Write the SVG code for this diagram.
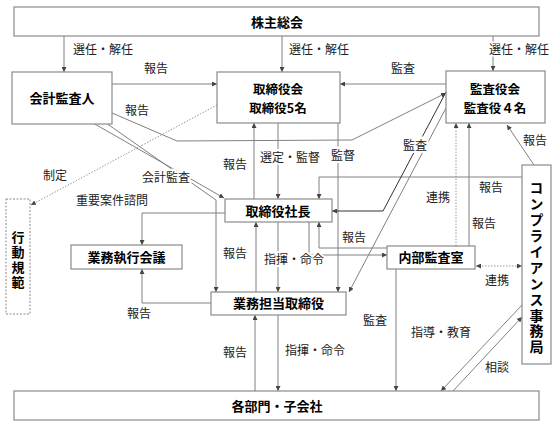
<svg xmlns="http://www.w3.org/2000/svg" width="557" height="427" viewBox="0 0 557 427">
<style>
.box{fill:#fff;stroke:#8a8a8a;stroke-width:1.2}
.dbox{fill:#fff;stroke:#8a8a8a;stroke-width:1;stroke-dasharray:2,1.5}
.t{font-family:"Noto Sans CJK JP","Noto Sans",sans-serif;font-weight:bold;font-size:13px;text-anchor:middle;fill:#000}
.t2{font-family:"Noto Sans CJK JP","Noto Sans",sans-serif;font-weight:bold;font-size:12.5px;text-anchor:middle;fill:#000}
.vt{font-family:"Noto Sans CJK JP","Noto Sans",sans-serif;font-weight:bold;fill:#000;writing-mode:vertical-rl;text-anchor:start}
.l{font-family:"Noto Sans CJK JP","Noto Sans",sans-serif;font-size:12px;text-anchor:middle;fill:#222}
.h{stroke:#fff;stroke-width:4;paint-order:stroke}
.c{fill:none;stroke:#808080;stroke-width:1;marker-end:url(#a)}
.dk{stroke:#333}
.d{fill:none;stroke:#999;stroke-width:1;stroke-dasharray:1.5,1.5}
</style>
<defs>
<marker id="a" viewBox="0 0 6 6" refX="6" refY="3" markerWidth="5" markerHeight="5" orient="auto-start-reverse" markerUnits="userSpaceOnUse"><path d="M0,0 L6,3 L0,6 z" fill="#444"/></marker>
</defs>
<g id="connectors">
<path class="c" d="M64,36 V72"/>
<path class="c" d="M282,36 V72"/>
<path class="c" d="M493,36 V71"/>
<path class="c" d="M112,84 H217"/>
<path class="c" d="M446,84 H340"/>
<path class="c" d="M112,113 L177,141 L352,140 L446,93"/>
<path class="d" d="M217,105 L31,205" marker-end="url(#a)"/>
<path class="c" d="M93,123 L224,198"/>
<path class="c" d="M106,123 L216,200 V292"/>
<path class="c" d="M254,199 V123"/>
<path class="c" d="M278,123 V199"/>
<path class="c" d="M338,123 V292"/>
<path class="c" d="M522,177 H319 V199"/>
<path class="c dk" d="M446,92 L383,211 H332"/>
<path class="c" d="M446,108 L349,292"/>
<path class="d" d="M456,246 V123" marker-end="url(#a)"/>
<path class="c" d="M469,246 V123"/>
<path class="c" d="M534,165 L507,125"/>
<path class="c" d="M225,213 H142 V245"/>
<path class="c" d="M211,303 H142 V269"/>
<path class="c" d="M256,292 V222"/>
<path class="c" d="M278,222 V292"/>
<path class="c" d="M309,222 V255 H387"/>
<path class="c" d="M387,248 H319 V222"/>
<path class="c" d="M255,391 V315"/>
<path class="c" d="M278,315 V391"/>
<path class="c" d="M396,269 V391"/>
<path class="c" d="M522,305 L441,391"/>
<path class="c" d="M453,391 L522,317"/>
<path class="d" d="M476,266 H522" marker-start="url(#a)" marker-end="url(#a)"/>
</g>
<g id="n-kabunushi"><rect class="box" x="14" y="7" width="525" height="29"/><text class="t" x="277" y="26.5">株主総会</text></g>
<g id="n-kaikei"><rect class="box" x="12" y="72" width="100" height="52"/><text class="t" x="62" y="103">会計監査人</text></g>
<g id="n-torishimariyakukai"><rect class="box" x="217" y="72" width="123" height="51"/><text class="t2" x="278" y="94">取締役会<tspan x="278" y="112.5">取締役5名</tspan></text></g>
<g id="n-kansayakukai"><rect class="box" x="446" y="71" width="99" height="52"/><text class="t2" x="495" y="94">監査役会<tspan x="495" y="112.5">監査役４名</tspan></text></g>
<g id="n-shacho"><rect class="box" x="225" y="199" width="107" height="23"/><text class="t" x="278" y="215.5">取締役社長</text></g>
<g id="n-gyomushikko"><rect class="box" x="71" y="245" width="111" height="24"/><text class="t" x="126.5" y="262">業務執行会議</text></g>
<g id="n-naibu"><rect class="box" x="387" y="246" width="88" height="23"/><text class="t" x="431" y="262">内部監査室</text></g>
<g id="n-gyomutanto"><rect class="box" x="211" y="292" width="135" height="23"/><text class="t" x="278.5" y="308">業務担当取締役</text></g>
<g id="n-kakubumon"><rect class="box" x="14" y="391" width="525" height="29"/><text class="t" x="277" y="410.5">各部門・子会社</text></g>
<g id="n-kodokihan"><rect class="dbox" x="6" y="199" width="24" height="115"/>
<text class="vt" x="18" y="230.5" font-size="13" letter-spacing="2">行動規範</text></g>
<g id="n-compliance"><rect class="box" x="522" y="165" width="29" height="199"/>
<text class="vt" x="536.5" y="181" font-size="14" letter-spacing="1.9">コンプライアンス事務局</text></g>
<g id="labels">
<text class="l" x="103" y="53.5">選任・解任</text>
<text class="l" x="319" y="53.5">選任・解任</text>
<text class="l h" x="519" y="53.5">選任・解任</text>
<text class="l" x="156" y="72.5">報告</text>
<text class="l" x="403" y="72.5">監査</text>
<text class="l" x="137" y="114.5">報告</text>
<text class="l" x="55" y="179.5">制定</text>
<text class="l h" x="166" y="181.5">会計監査</text>
<text class="l" x="112" y="204.5">重要案件諮問</text>
<text class="l" x="235" y="168.5">報告</text>
<text class="l h" x="290" y="161.5">選定・監督</text>
<text class="l h" x="343" y="159.5">監督</text>
<text class="l h" x="415" y="149.5">監査</text>
<text class="l" x="535" y="144.5">報告</text>
<text class="l" x="438" y="201.5">連携</text>
<text class="l" x="491" y="191.5">報告</text>
<text class="l" x="484" y="227.5">報告</text>
<text class="l" x="354" y="241.5">報告</text>
<text class="l" x="235" y="257.5">報告</text>
<text class="l h" x="294" y="263.5">指揮・命令</text>
<text class="l" x="497" y="284.5">連携</text>
<text class="l" x="139" y="317.5">報告</text>
<text class="l" x="375" y="324.5">監査</text>
<text class="l" x="441" y="336.5">指導・教育</text>
<text class="l" x="235" y="356.5">報告</text>
<text class="l" x="315" y="354.5">指揮・命令</text>
<text class="l" x="497" y="371.5">相談</text>
</g>
</svg>
